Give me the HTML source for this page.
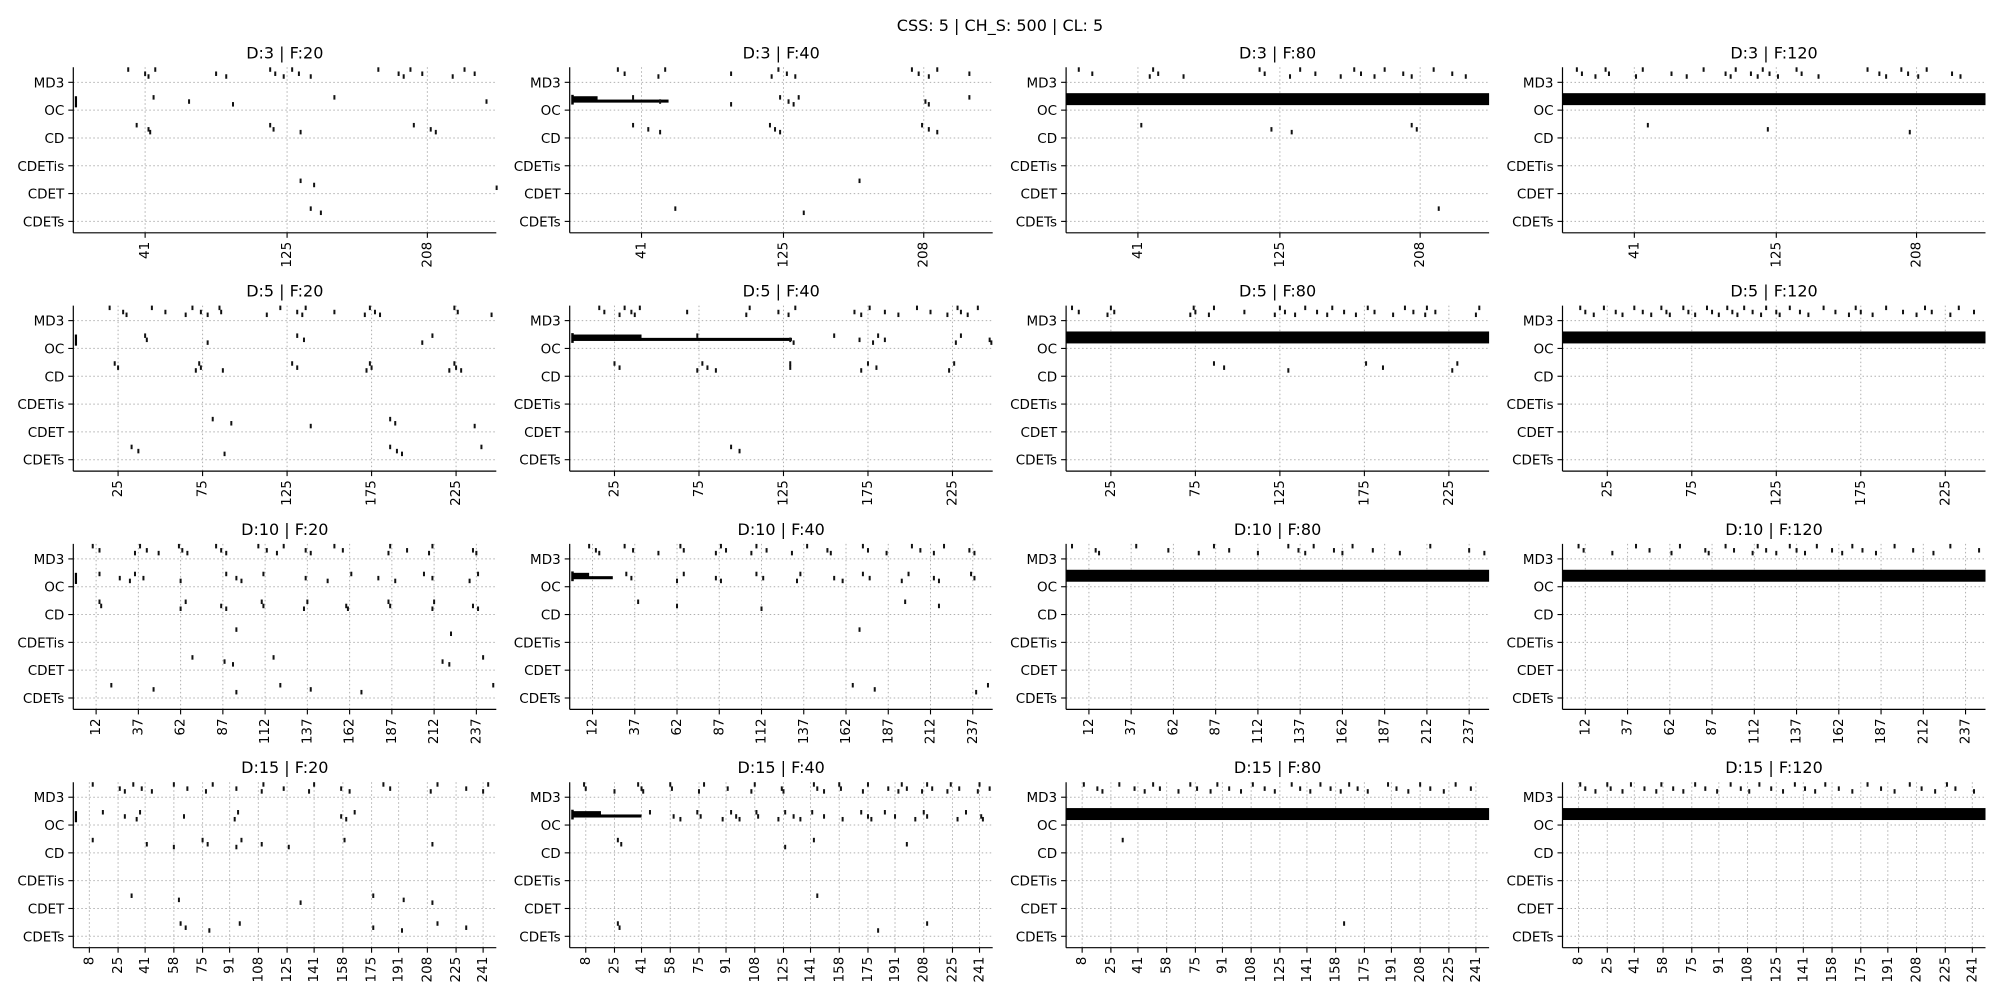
<!DOCTYPE html>
<html><head><meta charset="utf-8">
<style>
html,body{margin:0;padding:0;background:#fff;}
svg{display:block;font-family:"DejaVu Sans","Liberation Sans",sans-serif;}
</style></head>
<body>
<svg id="fig" width="2000" height="1000" viewBox="0 0 2000 1000" xmlns="http://www.w3.org/2000/svg">
<rect width="2000" height="1000" fill="#fff"/>
<text x="1000" y="31" font-size="16" text-anchor="middle">CSS: 5 | CH_S: 500 | CL: 5</text>
</svg>
<script>
const categories = ["MD3","OC","CD","CDETis","CDET","CDETs"];
const rowD = [3,5,10,15];
const colF = [20,40,80,120];
const ticksR1 = [41,125,208];
const ticksR2 = [25,75,125,175,225];
const ticksR3 = [12,37,62,87,112,137,162,187,212,237];
const ticksR4 = [8,25,41,58,75,91,108,125,141,158,175,191,208,225,241];
const xDomain = [-1.5,248.8];
const barF40 = [[15,57],[41,130],[10,24],[17,41]];

const D3F20_MD3=[31,41,43,47,83,89,115,118,123,128,132,139,179,191,194,198,205,223,230,236];
const D3F20_OC=[46,67,93,153,243];
const D3F20_CD=[36,43,44,115,117,133,200,210,213];
const D3F20_CDET=[133,141,249];
const D3F20_CDETs=[139,145];
const D3F40_MD3=[27,31,51,55,94,118,122,127,132,201,205,211,216,235];
const D3F40_OC=[36,52,94,123,128,131,134,209,211,235];
const D3F40_CD=[36,45,52,117,120,123,207,211,216];
const D3F40_CDET=[170];
const D3F40_CDETs=[61,137];
const D3F80_MD3=[6,14,48,50,53,68,113,116,131,137,146,161,169,173,181,187,198,203,216,227,235];
const D3F80_CD=[43,120,132,203,206];
const D3F80_CDETs=[219];
const D3F120_MD3=[7,10,18,24,26,42,46,63,72,82,95,98,101,110,114,117,121,126,137,140,150,179,186,190,199,203,209,214,229,234];
const D3F120_CD=[49,120,204];
const D5F20_MD3=[20,28,30,45,53,65,69,74,78,85,86,113,121,131,134,136,153,171,174,177,180,224,226,246];
const D5F20_OC=[41,42,78,131,135,205,211];
const D5F20_CD=[23,25,71,73,74,87,128,131,172,174,175,221,224,225,228];
const D5F20_CDET=[81,92,139,186,189,236];
const D5F20_CDETs=[33,37,88,186,190,193,240];
const D5F40_MD3=[16,19,28,31,35,37,40,68,103,105,122,128,132,167,171,176,185,193,204,212,222,228,230,234,240];
const D5F40_OC=[74,129,131,155,170,178,181,185,227,230,247,248];
const D5F40_CD=[25,28,74,77,80,85,129,129,171,175,180,223,226];
const D5F40_CDETs=[94,99];
const D5F80_MD3=[2,6,23,25,27,72,74,75,83,86,104,122,125,128,134,140,147,153,156,163,170,177,181,192,199,204,211,212,217,241,243];
const D5F80_CD=[86,92,130,176,186,227,230];
const D5F120_MD3=[9,12,17,23,30,34,41,46,51,57,60,62,70,73,77,84,87,91,96,99,102,106,111,116,119,125,127,133,139,144,153,160,168,172,175,182,190,200,208,213,217,228,233,242];
const D10F20_MD3=[10,14,35,38,42,49,61,63,66,83,86,89,108,113,119,123,136,139,153,158,185,186,196,209,211,235,237];
const D10F20_OC=[14,26,32,35,40,62,89,95,98,111,136,149,163,179,189,206,211,233,238];
const D10F20_CD=[14,15,62,65,86,89,110,111,135,137,160,161,185,186,211,212,235,238];
const D10F20_CDETis=[95,222];
const D10F20_CDET=[69,88,93,117,217,221,241];
const D10F20_CDETs=[21,46,95,121,139,169,247];
const D10F40_MD3=[10,14,16,31,36,51,64,66,85,88,91,106,109,115,130,139,151,153,172,175,186,201,206,214,220,235,238];
const D10F40_OC=[32,35,62,66,85,88,109,113,133,135,155,160,172,176,195,199,214,217,236,238];
const D10F40_CD=[39,62,112,197,217];
const D10F40_CDETis=[170];
const D10F40_CDETs=[166,179,239,246];
const D10F80_MD3=[2,16,18,40,59,77,86,95,112,130,136,140,145,157,162,168,180,196,214,237,246];
const D10F120_MD3=[8,11,28,42,50,63,68,83,85,95,100,111,114,119,125,133,137,142,149,158,164,170,176,184,195,206,218,228,245];
const D15F20_MD3=[10,26,29,34,39,45,58,66,77,81,95,110,111,123,138,141,157,162,182,186,210,214,231,241,244];
const D15F20_OC=[16,29,36,38,64,94,96,157,160,165];
const D15F20_CD=[10,42,58,75,78,95,98,110,126,159,211];
const D15F20_CDET=[33,61,133,176,194,211];
const D15F20_CDETs=[62,65,79,97,176,193,214,231];
const D15F40_MD3=[7,8,25,39,41,42,58,59,75,78,92,106,108,124,125,143,145,149,158,159,172,175,187,193,195,198,207,210,213,222,224,229,240,241,247];
const D15F40_OC=[46,60,64,74,76,89,94,97,99,109,110,122,126,131,135,142,149,160,171,175,177,185,191,203,208,210,228,233,242,243];
const D15F40_CD=[27,29,126,143,198];
const D15F40_CDET=[145];
const D15F40_CDETs=[27,28,181,210];
const D15F80_MD3=[9,17,20,30,39,45,50,54,65,72,76,84,88,95,102,109,116,122,132,137,143,149,155,161,166,171,177,189,194,201,208,214,222,229,238];
const D15F80_CD=[32];
const D15F80_CDETs=[163];
const D15F120_MD3=[9,12,18,25,27,34,39,47,54,57,64,70,77,83,90,98,104,109,115,122,129,136,142,148,154,162,170,179,187,195,204,211,219,226,231,242];

const rowTicks=[ticksR1,ticksR2,ticksR3,ticksR4];
const panelSeries=[
 [{MD3:D3F20_MD3,OC:D3F20_OC,CD:D3F20_CD,CDET:D3F20_CDET,CDETs:D3F20_CDETs},
  {MD3:D3F40_MD3,OC:D3F40_OC,CD:D3F40_CD,CDET:D3F40_CDET,CDETs:D3F40_CDETs},
  {MD3:D3F80_MD3,CD:D3F80_CD,CDETs:D3F80_CDETs},
  {MD3:D3F120_MD3,CD:D3F120_CD}],
 [{MD3:D5F20_MD3,OC:D5F20_OC,CD:D5F20_CD,CDET:D5F20_CDET,CDETs:D5F20_CDETs},
  {MD3:D5F40_MD3,OC:D5F40_OC,CD:D5F40_CD,CDETs:D5F40_CDETs},
  {MD3:D5F80_MD3,CD:D5F80_CD},
  {MD3:D5F120_MD3}],
 [{MD3:D10F20_MD3,OC:D10F20_OC,CD:D10F20_CD,CDETis:D10F20_CDETis,CDET:D10F20_CDET,CDETs:D10F20_CDETs},
  {MD3:D10F40_MD3,OC:D10F40_OC,CD:D10F40_CD,CDETis:D10F40_CDETis,CDETs:D10F40_CDETs},
  {MD3:D10F80_MD3},
  {MD3:D10F120_MD3}],
 [{MD3:D15F20_MD3,OC:D15F20_OC,CD:D15F20_CD,CDET:D15F20_CDET,CDETs:D15F20_CDETs},
  {MD3:D15F40_MD3,OC:D15F40_OC,CD:D15F40_CD,CDET:D15F40_CDET,CDETs:D15F40_CDETs},
  {MD3:D15F80_MD3,CD:D15F80_CD,CDETs:D15F80_CDETs},
  {MD3:D15F120_MD3}]
];

const NS="http://www.w3.org/2000/svg";
const svg=document.getElementById('fig');
function mk(tag,attrs,parent){const e=document.createElementNS(NS,tag);for(const k in attrs)e.setAttribute(k,attrs[k]);(parent||svg).appendChild(e);return e;}
const colLeft=[73.3,569.7,1066.1,1562.5], axW=423;
const rowTop=[67.3,305.6,543.9,782.2], axH=165.5;
const yDomain=[-0.54,5.41];

for(let r=0;r<4;r++){for(let c=0;c<4;c++){
 const L=colLeft[c],T=rowTop[r];
 const xs=v=>L+(v-xDomain[0])/(xDomain[1]-xDomain[0])*axW;
 const ys=v=>T+(v-yDomain[0])/(yDomain[1]-yDomain[0])*axH;
 const g=mk('g',{});
 
 
 const t=mk('text',{x:L+axW/2,y:T-9,'font-size':16,'text-anchor':'middle'},g);
 
 
 t.textContent='D:'+rowD[r]+' | F:'+colF[c];
 rowTicks[r].forEach(tv=>{
  const x=xs(tv);
  const gl=mk('line',{x1:x,x2:x,y1:T,y2:T+axH,stroke:'#b0b0b0','stroke-width':1,'stroke-dasharray':'1.5,2.5'},g);
  
  
  const tk=mk('line',{x1:x,x2:x,y1:T+axH,y2:T+axH+5,stroke:'#000','stroke-width':1.1},g);
  
  
  const tl=mk('text',{x:0,y:0,'font-size':13.5,'text-anchor':'end','dominant-baseline':'central',transform:'translate('+x+','+(T+axH+9)+') rotate(-90)'},g);
  
  
  tl.textContent=tv;
 });
 categories.forEach((cat,i)=>{
  const y=ys(i);
  const gl=mk('line',{x1:L,x2:L+axW,y1:y,y2:y,stroke:'#b0b0b0','stroke-width':1,'stroke-dasharray':'1.5,2.5'},g);
  
  
  const tk=mk('line',{x1:L-5,x2:L,y1:y,y2:y,stroke:'#000','stroke-width':1.1},g);
  
  
  const tl=mk('text',{x:L-9,y:y+5,'font-size':13.5,'text-anchor':'end'},g);
  
  
  tl.textContent=cat;
 });
 if(c===0){
  const b=mk('rect',{x:xs(0)-1,y:ys(0.5),width:2.2,height:ys(0.9)-ys(0.5),fill:'#000'},g);
  
  
 } else if(c===1){
  const [th,tn]=barF40[r];
  const b1=mk('rect',{x:xs(0),y:ys(0.5),width:xs(th)-xs(0),height:ys(0.72)-ys(0.5),fill:'#000'},g);
  
  
  const b2=mk('rect',{x:xs(0),y:ys(0.62),width:xs(tn)-xs(0),height:ys(0.73)-ys(0.62),fill:'#000'},g);
  
  
  const b3=mk('rect',{x:xs(0)-1,y:ys(0.45),width:2.5,height:ys(0.8)-ys(0.45),fill:'#000'},g);
  
  
 } else {
  const b=mk('rect',{x:L,y:ys(0.39),width:axW,height:ys(0.82)-ys(0.39),fill:'#000'},g);
  
  
 }
 const ser=panelSeries[r][c];
 categories.forEach((cat,i)=>{
  const vals=ser[cat]||[];
  vals.forEach((v,k)=>{
   const off=(k%3===0)?-0.45:(k%3===1?-0.3:-0.2);
   const cy=ys(i+off);
   const p=mk('rect',{x:xs(v)-1,y:cy-2.5,width:2,height:4.5,fill:'#111'},g);
   
   
  });
 });
 const sl=mk('line',{x1:L,x2:L,y1:T,y2:T+axH,stroke:'#000','stroke-width':1.2},g);
 
 
 const sb=mk('line',{x1:L,x2:L+axW,y1:T+axH,y2:T+axH,stroke:'#000','stroke-width':1.2},g);
 
 
}}
</script>
</body></html>
